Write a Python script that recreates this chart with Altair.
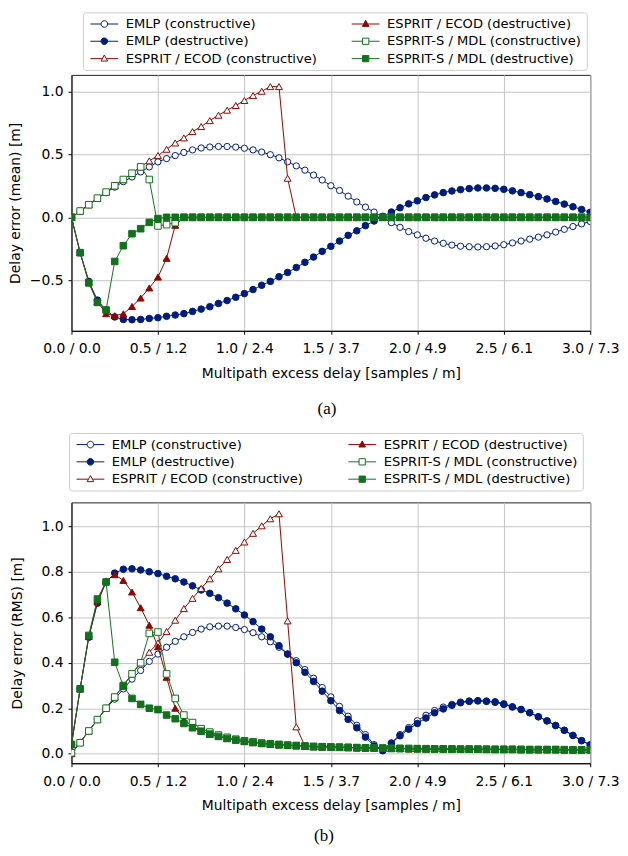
import altair as alt
import pandas as pd

# ---------------- data ----------------
X = [0.00, 0.05, 0.10, 0.15, 0.20, 0.25, 0.30, 0.35, 0.40, 0.45,
     0.50, 0.55, 0.60, 0.65, 0.70, 0.75, 0.80, 0.85, 0.90, 0.95,
     1.00, 1.05, 1.10, 1.15, 1.20, 1.25, 1.30, 1.35, 1.40, 1.45,
     1.50, 1.55, 1.60, 1.65, 1.70, 1.75, 1.80, 1.85, 1.90, 1.95,
     2.00, 2.05, 2.10, 2.15, 2.20, 2.25, 2.30, 2.35, 2.40, 2.45,
     2.50, 2.55, 2.60, 2.65, 2.70, 2.75, 2.80, 2.85, 2.90, 2.95,
     3.00]

NAMES = ["EMLP (constructive)", "EMLP (destructive)",
         "ESPRIT / ECOD (constructive)", "ESPRIT / ECOD (destructive)",
         "ESPRIT-S / MDL (constructive)", "ESPRIT-S / MDL (destructive)"]

# panel (a): mean delay error [m]
EMLP_CON_MEAN = [0.0, 0.05, 0.10, 0.15, 0.195, 0.24, 0.283, 0.32, 0.36, 0.40,
                 0.44, 0.466, 0.49, 0.515, 0.535, 0.55, 0.558, 0.562, 0.562, 0.557,
                 0.548, 0.535, 0.518, 0.497, 0.472, 0.44, 0.408, 0.374, 0.335, 0.296,
                 0.251, 0.213, 0.168, 0.122, 0.081, 0.042, 0.0, -0.042, -0.079, -0.113,
                 -0.139, -0.166, -0.188, -0.206, -0.22, -0.229, -0.233, -0.235, -0.233, -0.227,
                 -0.217, -0.203, -0.188, -0.173, -0.157, -0.139, -0.117, -0.095, -0.073, -0.052,
                 -0.033]
EMLP_DES_MEAN = [0.0, -0.28, -0.508, -0.657, -0.736, -0.79, -0.81, -0.812, -0.81, -0.802,
                 -0.796, -0.785, -0.775, -0.764, -0.746, -0.728, -0.709, -0.683, -0.66, -0.634,
                 -0.605, -0.573, -0.539, -0.508, -0.471, -0.437, -0.398, -0.357, -0.315, -0.27,
                 -0.23, -0.188, -0.143, -0.107, -0.066, -0.029, 0.008, 0.042, 0.076, 0.107,
                 0.131, 0.157, 0.178, 0.196, 0.209, 0.22, 0.228, 0.233, 0.233, 0.23,
                 0.222, 0.21, 0.196, 0.18, 0.164, 0.146, 0.126, 0.105, 0.084, 0.062,
                 0.04]
ESPRIT_CON_MEAN = [0.0, 0.05, 0.10, 0.15, 0.20, 0.25, 0.30, 0.35, 0.40, 0.448,
                   0.49, 0.54, 0.59, 0.63, 0.68, 0.72, 0.767, 0.81, 0.85, 0.887,
                   0.927, 0.966, 1.0, 1.037, 1.037, 0.31, 0.0, 0.0, 0.0, 0.0,
                   0.0, 0.0, 0.0, 0.0, 0.0, 0.0, 0.0, 0.0, 0.0, 0.0,
                   0.0, 0.0, 0.0, 0.0, 0.0, 0.0, 0.0, 0.0, 0.0, 0.0,
                   0.0, 0.0, 0.0, 0.0, 0.0, 0.0, 0.0, 0.0, 0.0, 0.0,
                   0.0]
ESPRIT_DES_MEAN = [0.0, -0.28, -0.51, -0.67, -0.764, -0.78, -0.765, -0.707, -0.64, -0.56,
                   -0.474, -0.325, -0.063, 0.0, 0.0, 0.0, 0.0, 0.0, 0.0, 0.0,
                   0.0, 0.0, 0.0, 0.0, 0.0, 0.0, 0.0, 0.0, 0.0, 0.0,
                   0.0, 0.0, 0.0, 0.0, 0.0, 0.0, 0.0, 0.0, 0.0, 0.0,
                   0.0, 0.0, 0.0, 0.0, 0.0, 0.0, 0.0, 0.0, 0.0, 0.0,
                   0.0, 0.0, 0.0, 0.0, 0.0, 0.0, 0.0, 0.0, 0.0, 0.0,
                   0.0]
ESPRITS_CON_MEAN = [0.0, 0.05, 0.10, 0.152, 0.20, 0.25, 0.30, 0.35, 0.40, 0.30,
                    -0.068, -0.058, -0.042, 0.0, 0.0, 0.0, 0.0, 0.0, 0.0, 0.0,
                    0.0, 0.0, 0.0, 0.0, 0.0, 0.0, 0.0, 0.0, 0.0, 0.0,
                    0.0, 0.0, 0.0, 0.0, 0.0, 0.0, 0.0, 0.0, 0.0, 0.0,
                    0.0, 0.0, 0.0, 0.0, 0.0, 0.0, 0.0, 0.0, 0.0, 0.0,
                    0.0, 0.0, 0.0, 0.0, 0.0, 0.0, 0.0, 0.0, 0.0, 0.0,
                    0.0]
ESPRITS_DES_MEAN = [0.0, -0.28, -0.52, -0.675, -0.735, -0.35, -0.225, -0.13, -0.09, -0.04,
                    -0.01, 0.0, 0.0, 0.0, 0.0, 0.0, 0.0, 0.0, 0.0, 0.0,
                    0.0, 0.0, 0.0, 0.0, 0.0, 0.0, 0.0, 0.0, 0.0, 0.0,
                    0.0, 0.0, 0.0, 0.0, 0.0, 0.0, 0.0, 0.0, 0.0, 0.0,
                    0.0, 0.0, 0.0, 0.0, 0.0, 0.0, 0.0, 0.0, 0.0, 0.0,
                    0.0, 0.0, 0.0, 0.0, 0.0, 0.0, 0.0, 0.0, 0.0, 0.0,
                    0.0]

# panel (b): RMS delay error [m]
EMLP_CON_RMS = [0.0, 0.05, 0.10, 0.15, 0.20, 0.24, 0.285, 0.328, 0.366, 0.406,
                0.438, 0.468, 0.494, 0.514, 0.533, 0.548, 0.558, 0.561, 0.561, 0.555,
                0.546, 0.532, 0.514, 0.492, 0.468, 0.438, 0.409, 0.37, 0.332, 0.291,
                0.25, 0.208, 0.165, 0.125, 0.084, 0.04, 0.016, 0.048, 0.084, 0.115,
                0.145, 0.169, 0.19, 0.205, 0.217, 0.227, 0.232, 0.234, 0.232, 0.229,
                0.22, 0.207, 0.195, 0.18, 0.163, 0.145, 0.124, 0.103, 0.081, 0.058,
                0.04]
EMLP_DES_RMS = [0.04, 0.285, 0.512, 0.662, 0.755, 0.794, 0.811, 0.813, 0.808, 0.80,
                0.792, 0.78, 0.769, 0.755, 0.738, 0.72, 0.705, 0.686, 0.662, 0.637,
                0.61, 0.581, 0.548, 0.514, 0.475, 0.438, 0.40, 0.358, 0.318, 0.275,
                0.233, 0.19, 0.151, 0.114, 0.073, 0.034, 0.013, 0.045, 0.079, 0.108,
                0.133, 0.157, 0.18, 0.197, 0.213, 0.224, 0.23, 0.232, 0.23, 0.226,
                0.217, 0.205, 0.194, 0.18, 0.162, 0.144, 0.124, 0.103, 0.08, 0.057,
                0.038]
ESPRIT_CON_RMS = [0.0, 0.05, 0.10, 0.15, 0.20, 0.25, 0.30, 0.35, 0.40, 0.446,
                  0.487, 0.537, 0.587, 0.638, 0.683, 0.727, 0.769, 0.813, 0.854, 0.894,
                  0.931, 0.969, 1.002, 1.033, 1.055, 0.584, 0.118, 0.033, 0.031, 0.03,
                  0.029, 0.028, 0.027, 0.026, 0.025, 0.025, 0.024, 0.023, 0.023, 0.022,
                  0.022, 0.021, 0.021, 0.021, 0.02, 0.02, 0.02, 0.02, 0.019, 0.019,
                  0.019, 0.019, 0.018, 0.018, 0.018, 0.018, 0.018, 0.017, 0.017, 0.017,
                  0.017]
ESPRIT_DES_RMS = [0.04, 0.285, 0.515, 0.67, 0.76, 0.787, 0.762, 0.711, 0.642, 0.565,
                  0.47, 0.336, 0.20, 0.15, 0.12, 0.10, 0.086, 0.076, 0.067, 0.06,
                  0.054, 0.049, 0.045, 0.042, 0.039, 0.037, 0.035, 0.033, 0.031, 0.03,
                  0.029, 0.028, 0.027, 0.026, 0.025, 0.025, 0.024, 0.023, 0.023, 0.022,
                  0.022, 0.021, 0.021, 0.021, 0.02, 0.02, 0.02, 0.02, 0.019, 0.019,
                  0.019, 0.019, 0.018, 0.018, 0.018, 0.018, 0.018, 0.017, 0.017, 0.017,
                  0.017]
ESPRITS_CON_RMS = [0.004, 0.048, 0.10, 0.15, 0.20, 0.249, 0.30, 0.351, 0.40, 0.529,
                   0.535, 0.351, 0.243, 0.17, 0.137, 0.11, 0.095, 0.082, 0.072, 0.064,
                   0.057, 0.052, 0.047, 0.044, 0.041, 0.038, 0.036, 0.034, 0.032, 0.031,
                   0.03, 0.029, 0.028, 0.027, 0.026, 0.025, 0.025, 0.024, 0.023, 0.023,
                   0.022, 0.022, 0.021, 0.021, 0.021, 0.02, 0.02, 0.02, 0.02, 0.019,
                   0.019, 0.019, 0.019, 0.018, 0.018, 0.018, 0.018, 0.018, 0.017, 0.017,
                   0.017]
ESPRITS_DES_RMS = [0.041, 0.285, 0.52, 0.68, 0.755, 0.402, 0.297, 0.243, 0.217, 0.20,
                   0.194, 0.17, 0.154, 0.133, 0.114, 0.099, 0.086, 0.076, 0.067, 0.06,
                   0.054, 0.049, 0.045, 0.042, 0.039, 0.037, 0.035, 0.033, 0.031, 0.03,
                   0.029, 0.028, 0.027, 0.026, 0.025, 0.025, 0.024, 0.023, 0.023, 0.022,
                   0.022, 0.021, 0.021, 0.021, 0.02, 0.02, 0.02, 0.02, 0.019, 0.019,
                   0.019, 0.019, 0.018, 0.018, 0.018, 0.018, 0.018, 0.017, 0.017, 0.017,
                   0.017]

X_TICKS = [0.0, 0.5, 1.0, 1.5, 2.0, 2.5, 3.0]
X_TICK_LABELS = ["0.0 / 0.0", "0.5 / 1.2", "1.0 / 2.4", "1.5 / 3.7",
                 "2.0 / 4.9", "2.5 / 6.1", "3.0 / 7.3"]
Y_TICKS_A = [-0.5, 0.0, 0.5, 1.0]
Y_TICKS_B = [0.0, 0.2, 0.4, 0.6, 0.8, 1.0]

# ---------------- style ----------------
BLUE, RED, GREEN = "#001c7f", "#8c0800", "#12711c"
COLORS = [BLUE, BLUE, RED, RED, GREEN, GREEN]
SHAPES = ["circle", "circle", "triangle-up", "triangle-up", "square", "square"]
FILLED = [False, True, False, True, False, True]
SIZES = [40, 44, 49, 49, 44, 44]
CIRCLE_PATH = "M-4,0H-0.95M0.95,0H4M-0.95,0A0.95,0.95,0,1,1,0.95,0A0.95,0.95,0,1,1,-0.95,0Z"
TRI_PATH = "M-4,0H-0.57M0.57,0H4M0,-1.05L0.95,0.7L-0.95,0.7Z"
SQUARE_PATH = "M-4,0H-0.9M0.9,0H4M-0.9,-0.9H0.9V0.9H-0.9Z"
LEG_PATHS = [CIRCLE_PATH, CIRCLE_PATH, TRI_PATH, TRI_PATH, SQUARE_PATH, SQUARE_PATH]

FONT = "DejaVu Sans"
LABEL_EXPR = "[" + ",".join("'%s'" % s for s in X_TICK_LABELS) + "][round(datum.value * 2)]"
PLOT_W = 523


def make_df(lists):
    rows = []
    for name, ys in zip(NAMES, lists):
        for xv, yv in zip(X, ys):
            rows.append({"x": xv, "y": yv, "series": name})
    return pd.DataFrame(rows)


def panel(df, ydom, yticks, ytitle, ytitlepad, height, legx, legy, colpad, caption, cap_dx, cap_off):
    xenc = alt.X("x:Q", scale=alt.Scale(domain=[0, 3], nice=False, zero=False),
                 axis=alt.Axis(values=X_TICKS, labelExpr=LABEL_EXPR, labelFlush=False,
                               labelOverlap=False, labelPadding=7.5, titlePadding=11,
                               title="Multipath excess delay [samples / m]"))
    yenc = alt.Y("y:Q", scale=alt.Scale(domain=ydom, nice=False, zero=False),
                 axis=alt.Axis(values=yticks, title=ytitle, labelFlush=False,
                               labelOverlap=False, labelPadding=5, titlePadding=ytitlepad,
                               labelExpr="replace(format(datum.value, '.1f'), '-', '\u2212')"))
    layers = []
    for i, name in enumerate(NAMES):
        c = COLORS[i]
        layers.append(
            alt.Chart(df).transform_filter(alt.datum.series == name).mark_line(
                color=c, strokeWidth=1, clip=True,
                point=alt.OverlayMarkDef(shape=SHAPES[i], size=SIZES[i], filled=True,
                                         fill=c if FILLED[i] else "white", stroke=c,
                                         strokeWidth=1, opacity=1, clip=True)
            ).encode(x=xenc, y=yenc)
        )
    leg = alt.Legend(title=None, orient="none", legendX=legx, legendY=legy, columns=2,
                     columnPadding=colpad, rowPadding=3.5, symbolOffset=10, labelOffset=15,
                     labelFont=FONT, labelFontSize=13.2, labelColor="black", labelLimit=400,
                     padding=5, strokeColor="#cccccc", fillColor="white", cornerRadius=3,
                     symbolSize=49, symbolStrokeWidth=1)
    legend_layer = alt.Chart(df).transform_filter("false").mark_point(
        size=49, filled=True, opacity=1, strokeWidth=1
    ).encode(
        x=xenc, y=yenc,
        shape=alt.Shape("series:N", scale=alt.Scale(domain=NAMES, range=LEG_PATHS), legend=leg),
        stroke=alt.Stroke("series:N", scale=alt.Scale(domain=NAMES, range=COLORS), legend=leg),
        fill=alt.Fill("series:N", scale=alt.Scale(domain=NAMES,
                                                  range=[COLORS[i] if FILLED[i] else "white" for i in range(6)]),
                      legend=leg),
    )
    return alt.layer(*layers, legend_layer).properties(
        width=PLOT_W, height=height,
        title=alt.TitleParams(caption, orient="bottom", font="Liberation Serif", fontSize=17,
                              fontWeight="normal", color="black", anchor="middle",
                              frame="group", offset=cap_off, dx=cap_dx),
    )


df_a = make_df([EMLP_CON_MEAN, EMLP_DES_MEAN, ESPRIT_CON_MEAN, ESPRIT_DES_MEAN,
                ESPRITS_CON_MEAN, ESPRITS_DES_MEAN])
df_b = make_df([EMLP_CON_RMS, EMLP_DES_RMS, ESPRIT_CON_RMS, ESPRIT_DES_RMS,
                ESPRITS_CON_RMS, ESPRITS_DES_RMS])

chart_a = panel(df_a, [-0.9, 1.13], Y_TICKS_A, "Delay error (mean) [m]", 7, 258,
                11.5, -63, 32.5, "(a)", -4, 20.5)
chart_b = panel(df_b, [-0.042, 1.105], Y_TICKS_B, "Delay error (RMS) [m]", 17, 263,
                -2.5, -70, 43, "(b)", -7, 15)

chart = alt.concat(chart_a, chart_b, columns=1, spacing=15).resolve_scale(
    x="independent", y="independent", shape="independent", stroke="independent", fill="independent"
).resolve_legend(
    shape="independent", stroke="independent", fill="independent"
).properties(
    padding={"left": 0, "top": 0, "right": 0, "bottom": 0}
).configure_axis(
    labelFont=FONT, labelFontSize=14, labelColor="black",
    titleFont=FONT, titleFontSize=14, titleFontWeight="normal", titleColor="black",
    tickColor="black", tickSize=3.5, tickWidth=1,
    domainColor="black", domainWidth=1, grid=True, gridColor="#c4c4c4", gridWidth=1,
).configure_view(
    stroke="#222222", strokeWidth=1
)

chart.save("out.html", embed_options={"renderer": "svg", "actions": False})
